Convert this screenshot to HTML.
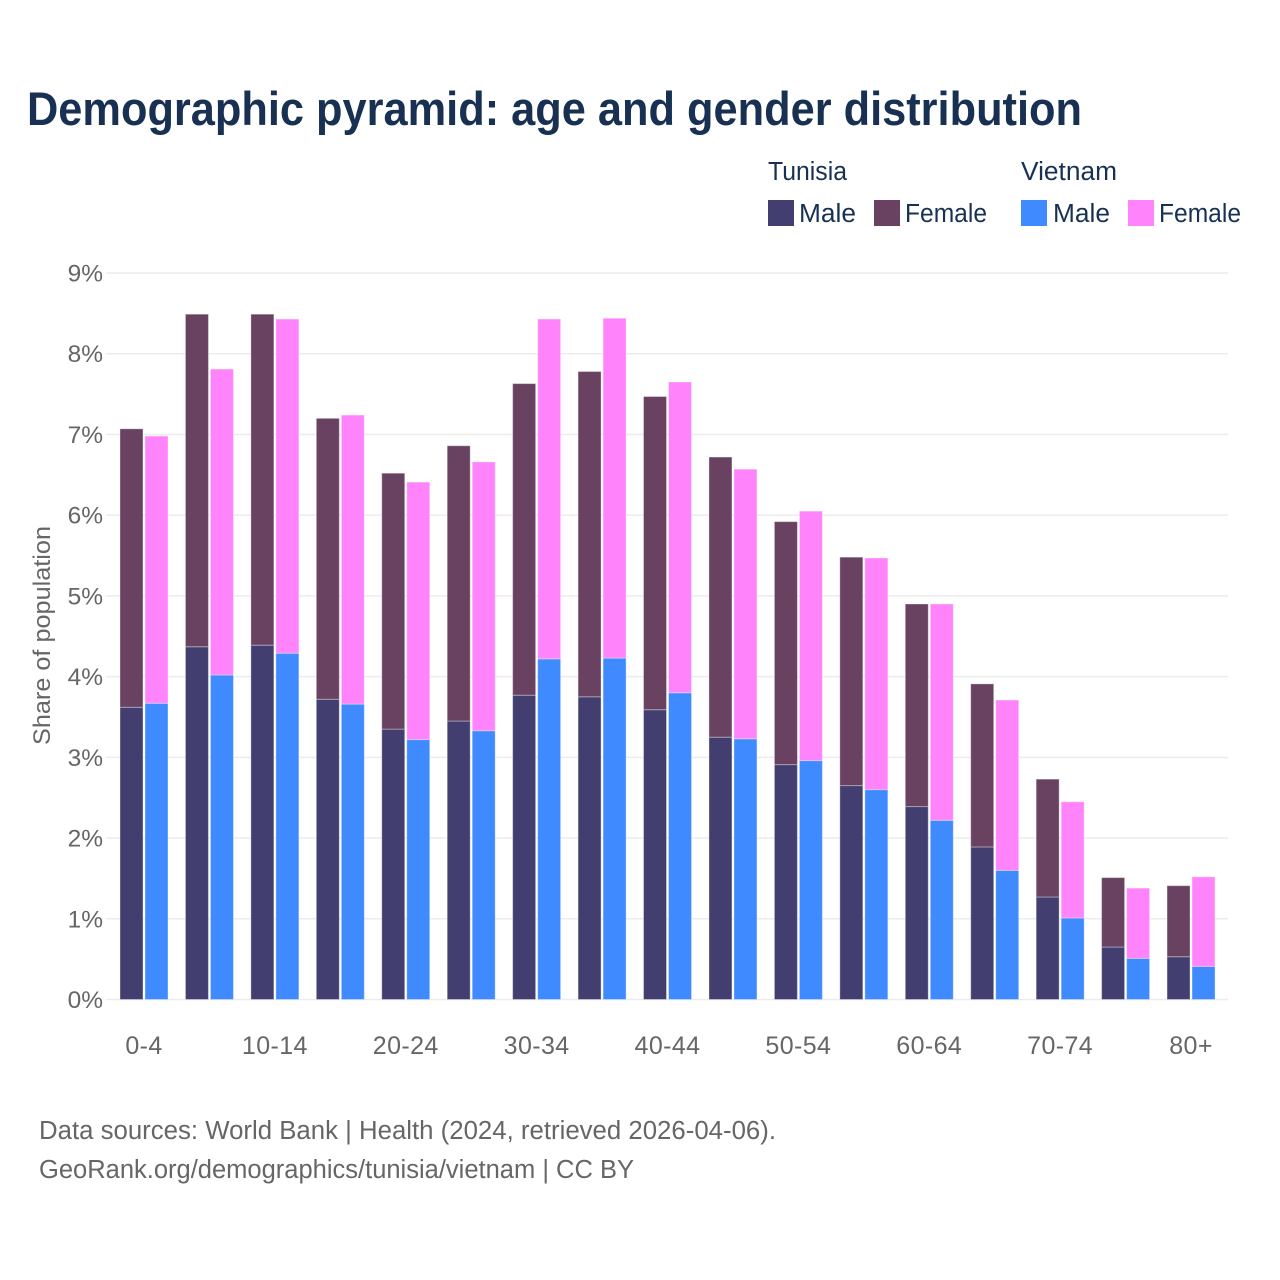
<!DOCTYPE html>
<html>
<head>
<meta charset="utf-8">
<style>
html,body{margin:0;padding:0;background:#fff;}
svg{display:block;}
text{font-family:"Liberation Sans",Arial,sans-serif;}
</style>
</head>
<body>
<svg id="chart" xmlns="http://www.w3.org/2000/svg" width="1280" height="1280" viewBox="0 0 1280 1280">
  <rect width="1280" height="1280" fill="#ffffff"/>
  <text x="27" y="125" font-size="47" font-weight="700" fill="#183153" textLength="1055" lengthAdjust="spacingAndGlyphs">Demographic pyramid: age and gender distribution</text>

  <g font-size="25.5" fill="#183153">
    <text x="768" y="180" textLength="79" lengthAdjust="spacingAndGlyphs">Tunisia</text>
    <text x="1021" y="180" textLength="96" lengthAdjust="spacingAndGlyphs">Vietnam</text>
    <rect x="768" y="200" width="26" height="26" fill="#423f70"/>
    <text x="799" y="222" textLength="57" lengthAdjust="spacingAndGlyphs">Male</text>
    <rect x="874" y="200" width="26" height="26" fill="#684260"/>
    <text x="905" y="222" textLength="82" lengthAdjust="spacingAndGlyphs">Female</text>
    <rect x="1021" y="200" width="26" height="26" fill="#3f8aff"/>
    <text x="1053" y="222" textLength="57" lengthAdjust="spacingAndGlyphs">Male</text>
    <rect x="1128" y="200" width="26" height="26" fill="#ff84fb"/>
    <text x="1159" y="222" textLength="82" lengthAdjust="spacingAndGlyphs">Female</text>
  </g>

  <g id="grid"></g>
  <g id="yticks"></g>
  <g id="bars"></g>
  <g id="xticks"></g>

  <text transform="translate(50,745) rotate(-90)" font-size="24" fill="#666666" textLength="219" lengthAdjust="spacingAndGlyphs">Share of population</text>

  <text x="39" y="1139" font-size="25.5" fill="#666666" textLength="737" lengthAdjust="spacingAndGlyphs">Data sources: World Bank | Health (2024, retrieved 2026-04-06).</text>
  <text x="39" y="1178" font-size="25.5" fill="#666666" textLength="595" lengthAdjust="spacingAndGlyphs">GeoRank.org/demographics/tunisia/vietnam | CC BY</text>
</svg>
<script>
var categories = ["0-4","5-9","10-14","15-19","20-24","25-29","30-34","35-39","40-44","45-49","50-54","55-59","60-64","65-69","70-74","75-79","80+"];
var xTickLabels = ["0-4","","10-14","","20-24","","30-34","","40-44","","50-54","","60-64","","70-74","","80+"];
var yTickValues = [0,1,2,3,4,5,6,7,8,9];
var tunisiaMale = [3.62,4.37,4.39,3.72,3.35,3.45,3.77,3.75,3.59,3.25,2.91,2.65,2.39,1.89,1.27,0.65,0.53];
var tunisiaFemale = [3.45,4.12,4.10,3.48,3.17,3.41,3.86,4.03,3.88,3.47,3.01,2.83,2.51,2.02,1.46,0.86,0.88];
var vietnamMale = [3.67,4.02,4.29,3.66,3.22,3.33,4.22,4.23,3.80,3.23,2.96,2.60,2.22,1.60,1.01,0.51,0.41];
var vietnamFemale = [3.31,3.79,4.14,3.58,3.19,3.33,4.21,4.21,3.85,3.34,3.09,2.87,2.68,2.11,1.44,0.87,1.11];

var NS = "http://www.w3.org/2000/svg";
var barWidth = 23;
function yScale(v) { return 999.5 - v * 80.72; }
function xScale(i) { return 144 + i * 65.44; }

var gridG = document.getElementById("grid");
var yticksG = document.getElementById("yticks");
var barsG = document.getElementById("bars");
var xticksG = document.getElementById("xticks");

yTickValues.forEach(function (v) {
  var line = document.createElementNS(NS, "line");
  
  
  line.setAttribute("x1", 106);
  line.setAttribute("x2", 1228);
  line.setAttribute("y1", yScale(v));
  line.setAttribute("y2", yScale(v));
  line.setAttribute("stroke", "#ececec");
  line.setAttribute("stroke-width", 1.5);
  gridG.appendChild(line);

  var t = document.createElementNS(NS, "text");
  
  
  t.setAttribute("x", 103);
  t.setAttribute("y", yScale(v) + 8.5);
  t.setAttribute("text-anchor", "end");
  t.setAttribute("font-size", 24.5);
  t.setAttribute("fill", "#666666");
  t.textContent = v + "%";
  yticksG.appendChild(t);
});

function addBar(x, base, value, color) {
  var top = yScale(base + value);
  var r = document.createElementNS(NS, "rect");
  
  
  r.setAttribute("x", x);
  r.setAttribute("y", top);
  r.setAttribute("width", barWidth);
  r.setAttribute("height", yScale(base) - top);
  r.setAttribute("fill", color);
  r.setAttribute("stroke", "#ffffff");
  r.setAttribute("stroke-opacity", 0.35);
  r.setAttribute("stroke-width", 1);
  barsG.appendChild(r);
}

categories.forEach(function (c, i) {
  var cx = xScale(i);
  var x1 = cx - 24;
  var x2 = cx + 1;
  addBar(x1, 0, tunisiaMale[i], "#423f70");
  addBar(x1, tunisiaMale[i], tunisiaFemale[i], "#684260");
  addBar(x2, 0, vietnamMale[i], "#3f8aff");
  addBar(x2, vietnamMale[i], vietnamFemale[i], "#ff84fb");

  if (xTickLabels[i]) {
    var t = document.createElementNS(NS, "text");
    
    
    t.setAttribute("x", cx);
    t.setAttribute("y", 1054);
    t.setAttribute("text-anchor", "middle");
    t.setAttribute("font-size", 25);
    t.setAttribute("letter-spacing", 0.4);
    t.setAttribute("fill", "#666666");
    t.textContent = xTickLabels[i];
    xticksG.appendChild(t);
  }
});
</script>
</body>
</html>
